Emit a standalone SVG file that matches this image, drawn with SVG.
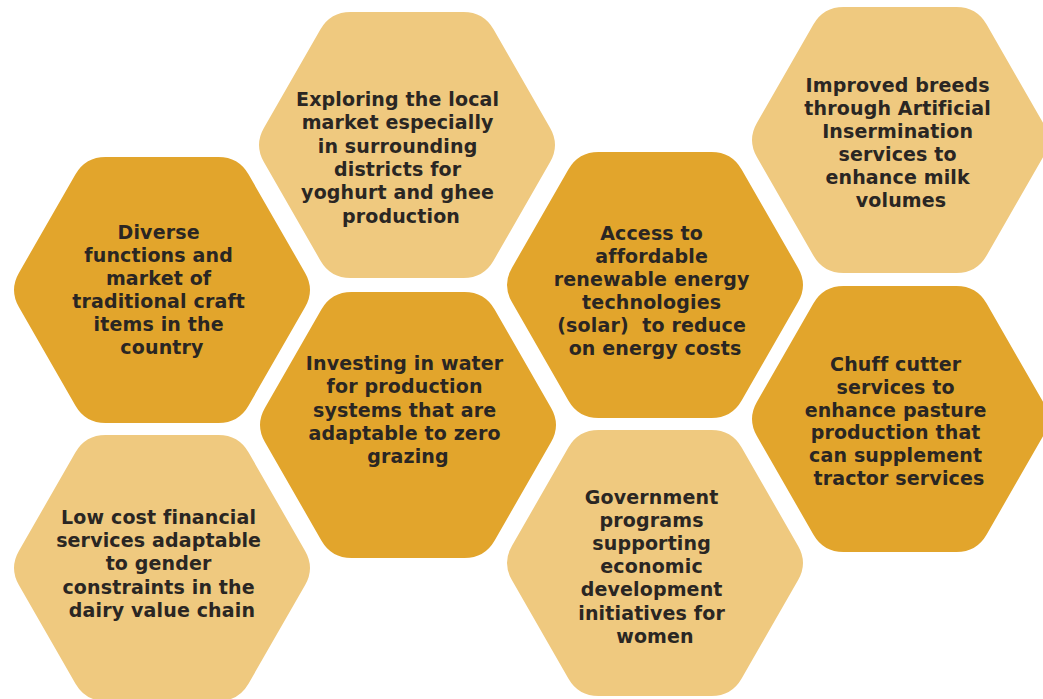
<svg xmlns="http://www.w3.org/2000/svg" xmlns:xlink="http://www.w3.org/1999/xlink" width="1043" height="699" viewBox="0 0 1043 699">
  <style>
    .dark { fill: #E2A52C; }
    .light { fill: #EFC97F; }
    .label { font-family: "DejaVu Sans", "Liberation Sans", sans-serif; font-weight: bold; font-size: 19px; letter-spacing: 0.15px; fill: #2A2623; text-anchor: middle; }
  </style>
  <defs>
    <!-- flat-topped hexagon with rounded corners, centred on the origin -->
    <path id="hex" d="M -143,-17.3 L -86.5,-115.7 Q -76.5,-133 -56.5,-133 L 56.5,-133 Q 76.5,-133 86.5,-115.7 L 143,-17.3 Q 153,0 143,17.3 L 86.5,115.7 Q 76.5,133 56.5,133 L -56.5,133 Q -76.5,133 -86.5,115.7 L -143,17.3 Q -153,0 -143,-17.3 Z"/>
  </defs>
  <rect width="1043" height="699" fill="#FFFFFF"/>

  <g id="connectors"/>

  <g id="node-local-market">
    <use xlink:href="#hex" class="light" transform="translate(407,145)"/>
    <text class="label">
      <tspan x="401" y="106">Exploring the local</tspan>
      <tspan x="401" y="129.3">market especially</tspan>
      <tspan x="401" y="152.6">in surrounding</tspan>
      <tspan x="401" y="175.9">districts for</tspan>
      <tspan x="401" y="199.2">yoghurt and ghee</tspan>
      <tspan x="401" y="222.5">production</tspan>
    </text>
  </g>

  <g id="node-craft-items">
    <use xlink:href="#hex" class="dark" transform="translate(162,290)"/>
    <text class="label">
      <tspan x="162" y="239.3">Diverse</tspan>
      <tspan x="162" y="262.3">functions and</tspan>
      <tspan x="162" y="285.3">market of</tspan>
      <tspan x="162" y="308.3">traditional craft</tspan>
      <tspan x="162" y="331.3">items in the</tspan>
      <tspan x="162" y="354.3">country</tspan>
    </text>
  </g>

  <g id="node-improved-breeds">
    <use xlink:href="#hex" class="light" transform="translate(900,140)"/>
    <text class="label">
      <tspan x="901" y="92.3">Improved breeds</tspan>
      <tspan x="901" y="115.3">through Artificial</tspan>
      <tspan x="901" y="138.3">Insermination</tspan>
      <tspan x="901" y="161.3">services to</tspan>
      <tspan x="901" y="184.3">enhance milk</tspan>
      <tspan x="901" y="207.3">volumes</tspan>
    </text>
  </g>

  <g id="node-financial-services">
    <use xlink:href="#hex" class="light" transform="translate(162,568)"/>
    <text class="label">
      <tspan x="162" y="524">Low cost financial</tspan>
      <tspan x="162" y="547.2">services adaptable</tspan>
      <tspan x="162" y="570.4">to gender</tspan>
      <tspan x="162" y="593.6">constraints in the</tspan>
      <tspan x="162" y="616.8">dairy value chain</tspan>
    </text>
  </g>

  <g id="node-government-programs">
    <use xlink:href="#hex" class="light" transform="translate(655,563)"/>
    <text class="label">
      <tspan x="655" y="504">Government</tspan>
      <tspan x="655" y="527.1">programs</tspan>
      <tspan x="655" y="550.2">supporting</tspan>
      <tspan x="655" y="573.3">economic</tspan>
      <tspan x="655" y="596.4">development</tspan>
      <tspan x="655" y="619.5">initiatives for</tspan>
      <tspan x="655" y="642.6">women</tspan>
    </text>
  </g>

  <g id="node-chuff-cutter">
    <use xlink:href="#hex" class="dark" transform="translate(900,419)"/>
    <text class="label">
      <tspan x="899" y="370.7">Chuff cutter</tspan>
      <tspan x="899" y="393.6">services to</tspan>
      <tspan x="899" y="416.5">enhance pasture</tspan>
      <tspan x="899" y="439.4">production that</tspan>
      <tspan x="899" y="462.3">can supplement</tspan>
      <tspan x="899" y="485.2">tractor services</tspan>
    </text>
  </g>

  <g id="node-renewable-energy">
    <use xlink:href="#hex" class="dark" transform="translate(655,285)"/>
    <text class="label">
      <tspan x="655" y="240">Access to</tspan>
      <tspan x="655" y="262.9">affordable</tspan>
      <tspan x="655" y="285.8">renewable energy</tspan>
      <tspan x="655" y="308.7">technologies</tspan>
      <tspan x="655" y="331.6" xml:space="preserve">(solar)  to reduce</tspan>
      <tspan x="655" y="354.5">on energy costs</tspan>
    </text>
  </g>

  <g id="node-water-investment">
    <use xlink:href="#hex" class="dark" transform="translate(408,425)"/>
    <text class="label">
      <tspan x="408" y="370">Investing in water</tspan>
      <tspan x="408" y="393.3">for production</tspan>
      <tspan x="408" y="416.6">systems that are</tspan>
      <tspan x="408" y="439.9">adaptable to zero</tspan>
      <tspan x="408" y="463.2">grazing</tspan>
    </text>
  </g>
</svg>
